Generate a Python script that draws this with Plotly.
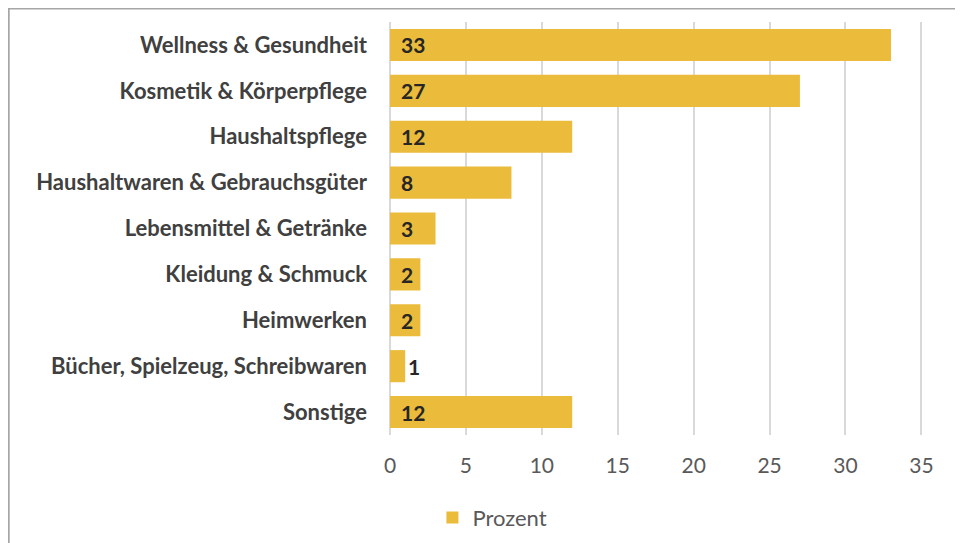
import plotly.graph_objects as go

kategorien = ["Wellness & Gesundheit", "Kosmetik & Körperpflege", "Haushaltspflege",
              "Haushaltwaren & Gebrauchsgüter", "Lebensmittel & Getränke",
              "Kleidung & Schmuck", "Heimwerken", "Bücher, Spielzeug, Schreibwaren",
              "Sonstige"]
prozent = [33, 27, 12, 8, 3, 2, 2, 1, 12]
x_ticks = [0, 5, 10, 15, 20, 25, 30, 35]

gelb = "#EBBB3B"
font = "Lato"

fig = go.Figure(go.Bar(
    x=prozent, y=kategorien, orientation="h", name="Prozent",
    marker=dict(color=gelb, line=dict(width=0)), width=0.7,
))

# value labels: at the bar start, or just after the bar when it is too short
for k, v in zip(kategorien, prozent):
    inside = v >= 2
    fig.add_annotation(x=0 if inside else v, y=k, text="<b>%d</b>" % v,
                       showarrow=False, xanchor="left", xshift=9 if inside else 1,
                       font=dict(family=font, size=21, color="#262626"))

# outer frame
fig.add_shape(type="rect", xref="paper", yref="paper", x0=-0.7074, x1=1.2, y0=-0.5, y1=1.0325,
              line=dict(color="#a6a6a6", width=2), layer="below")

fig.update_layout(
    width=963, height=543,
    margin=dict(l=382, r=42, t=14, b=114),
    plot_bgcolor="white", paper_bgcolor="white",
    bargap=0.3,
    showlegend=True,
    legend=dict(orientation="h", x=0.19, xanchor="center", y=-0.2, yanchor="middle",
                itemwidth=30,
                font=dict(family=font, size=22, color="#595959")),
    xaxis=dict(range=[0, 35.5], tickvals=x_ticks, showgrid=True, gridcolor="#d9d9d9", gridwidth=1.5,
               zeroline=True, zerolinecolor="#d9d9d9", zerolinewidth=1.5, automargin=False,
               tickfont=dict(family=font, size=21, color="#595959"), ticklabelstandoff=16),
    yaxis=dict(autorange="reversed", showgrid=False, ticklabelstandoff=22, automargin=False,
               tickfont=dict(family=font, size=22, color="#404040", weight="bold")),
)

fig.write_html("out.html")
